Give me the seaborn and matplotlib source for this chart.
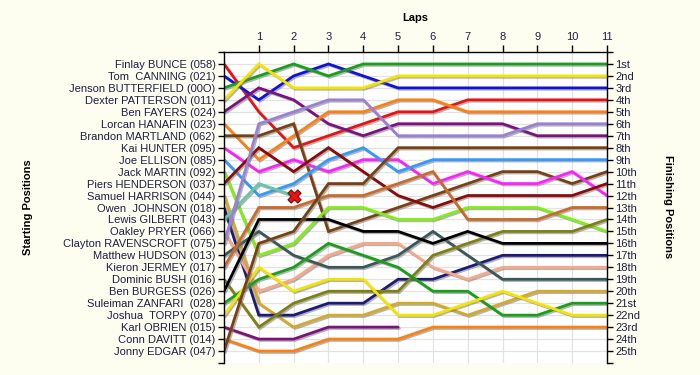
import matplotlib
matplotlib.use("Agg")
import matplotlib.pyplot as plt
import matplotlib.patheffects as pe
import numpy as np
import pandas as pd
import seaborn as sns

laps = list(range(12))

drivers = [
    "Finlay BUNCE (058)", "Tom  CANNING (021)", "Jenson BUTTERFIELD (00O)",
    "Dexter PATTERSON (011)", "Ben FAYERS (024)", "Lorcan HANAFIN (023)",
    "Brandon MARTLAND (062)", "Kai HUNTER (095)", "Joe ELLISON (085)",
    "Jack MARTIN (092)", "Piers HENDERSON (037)", "Samuel HARRISON (044)",
    "Owen  JOHNSON (018)", "Lewis GILBERT (043)", "Oakley PRYER (066)",
    "Clayton RAVENSCROFT (075)", "Matthew HUDSON (013)", "Kieron JERMEY (017)",
    "Dominic BUSH (016)", "Ben BURGESS (026)", "Suleiman ZANFARI  (028)",
    "Joshua  TORPY (070)", "Karl OBRIEN (015)", "Conn DAVITT (014)",
    "Jonny EDGAR (047)",
]

colors = [
    "#ee1111", "#1111dd", "#18a018", "#f5e400", "#7f107f", "#ff8010",
    "#7a4010", "#ff20ff", "#3399ff", "#80f010", "#8b0a0a", "#d8a828",
    "#1c1c78", "#66c8a8", "#f8a888", "#9a80d8", "#3a5858", "#cc6a28",
    "#808010", "#000000", "#18a018", "#f5e400", "#7f107f", "#ff8010",
    "#7a4010",
]

N = None
p_bunce = [1, 5, 8, 7, 6, 5, 5, 4, 4, 4, 4, 4]
p_canning = [2, 4, 2, 1, 2, 3, 3, 3, 3, 3, 3, 3]
p_butterfield = [3, 2, 1, 2, 1, 1, 1, 1, 1, 1, 1, 1]
p_patterson = [4, 1, 3, 3, 3, 2, 2, 2, 2, 2, 2, 2]
p_fayers = [5, 3, 4, 6, 7, 6, 6, 6, 6, 7, 7, 7]
p_hanafin = [6, 9, 7, 5, 5, 4, 4, 5, 5, 5, 5, 5]
p_martland = [7, 7, 6, 15, 14, 13, 12, 11, 10, 10, 11, 10]
p_hunter = [8, 10, 9, 10, 9, 9, 11, 10, 11, 11, 10, 12]
p_ellison = [9, 12, 11, 9, 8, 10, 9, 9, 9, 9, 9, 9]
p_martin = [10, 17, 16, 13, 13, 14, 14, 13, 13, 13, 14, 15]
p_henderson = [11, 8, 10, 8, 10, 12, 13, 12, 12, 12, 12, 11]
p_harrison = [12, 21, 23, 22, 22, 21, 21, 22, 21, 20, 20, 20]
p_johnson = [13, 22, 22, 21, 21, 19, 19, 18, 17, 17, 17, 17]
p_gilbert = [14, 11, 12, N, N, N, N, N, N, N, N, N]
p_pryer = [15, 20, 19, 17, 16, 16, 18, 19, 18, 18, 18, 18]
p_ravenscroft = [16, 6, 5, 4, 4, 7, 7, 7, 7, 6, 6, 6]
p_hudson = [17, 15, 17, 18, 18, 17, 15, 17, 19, 19, 19, 19]
p_jermey = [18, 13, 13, 12, 12, 11, 10, 14, 14, 14, 13, 13]
p_bush = [19, 23, 21, 20, 20, 20, 17, 16, 15, 15, 15, 14]
p_burgess = [20, 14, 14, 14, 15, 15, 16, 15, 16, 16, 16, 16]
p_zanfari = [21, 19, 18, 16, 17, 18, 20, 20, 22, 22, 21, 21]
p_torpy = [22, 18, 20, 19, 19, 22, 22, 21, 20, 21, 22, 22]
p_obrien = [23, 24, 24, 23, 23, 23, N, N, N, N, N, N]
p_davitt = [24, 25, 25, 24, 24, 24, 23, 23, 23, 23, 23, 23]
p_edgar = [25, 16, 15, 11, 11, 8, 8, 8, 8, 8, 8, 8]

retired_marked = ["Lewis GILBERT (043)"]

finish_labels = ["1st", "2nd", "3rd", "4th", "5th", "6th", "7th", "8th", "9th",
                 "10th", "11th", "12th", "13th", "14th", "15th", "16th", "17th",
                 "18th", "19th", "20th", "21st", "22nd", "23rd", "24th", "25th"]

all_pos = [p_bunce, p_canning, p_butterfield, p_patterson, p_fayers, p_hanafin,
           p_martland, p_hunter, p_ellison, p_martin, p_henderson, p_harrison,
           p_johnson, p_gilbert, p_pryer, p_ravenscroft, p_hudson, p_jermey,
           p_bush, p_burgess, p_zanfari, p_torpy, p_obrien, p_davitt, p_edgar]

rows = []
for d, plist in zip(drivers, all_pos):
    for lap, p in zip(laps, plist):
        if p is not None:
            rows.append({"lap": lap, "pos": p, "driver": d})
df = pd.DataFrame(rows)

sns.set_style("white")
plt.rcParams["font.family"] = ["Liberation Sans", "DejaVu Sans"]

txt = "#1e1e46"
fig = plt.figure(figsize=(7, 3.75), dpi=100, facecolor="#fdfdf0")
ax = fig.add_axes([224 / 700, 1 - 363 / 375, (607 - 224) / 700, (363 - 52) / 375])
ax.set_facecolor("white")

sns.lineplot(data=df, x="lap", y="pos", hue="driver", hue_order=drivers,
             palette=dict(zip(drivers, colors)), legend=False, sort=False,
             estimator=None, linewidth=2.0, ax=ax)
for ln in ax.lines:
    ln.set_path_effects([pe.SimpleLineShadow(offset=(1.0, -1.0), shadow_color="#777777", alpha=0.55),
                         pe.Normal()])
    ln.set_solid_joinstyle("miter")

# retirement marker
ret = df[df["driver"].isin(retired_marked)].groupby("driver").tail(1)
sns.scatterplot(data=ret, x="lap", y="pos", marker="X", s=90, color="#ee1111",
                edgecolor="#6a1010", linewidth=0.8, ax=ax, zorder=5, legend=False)

ax.set_xlim(0, 11)
ax.set_ylim(26, 0)
ax.xaxis.tick_top()
ax.set_xticks(range(1, 12))
ax.set_xticklabels([str(i) for i in range(1, 12)], color=txt, fontsize=8)
ax.set_yticks(range(1, 26))
ax.set_yticklabels(drivers, color=txt, fontsize=8)
ax.set_yticks([0, 26], minor=True)
ax.tick_params(axis="y", which="both", direction="out", length=4, width=1, color="black", pad=2, left=True)
ax.tick_params(axis="x", which="both", direction="out", length=5, width=1, color="black", pad=2, top=True, bottom=False)
ax.grid(True, color="#e2e2e2", linewidth=0.9)
ax.set_axisbelow(True)
for s in ["left", "right", "top"]:
    ax.spines[s].set_visible(True)
    ax.spines[s].set_color("black")
    ax.spines[s].set_linewidth(1.0)
ax.spines["bottom"].set_visible(False)
ax.set_xlabel("")
ax.set_ylabel("")

ax2 = ax.twinx()
ax2.set_ylim(26, 0)
ax2.set_yticks(range(1, 26))
ax2.set_yticklabels(finish_labels, color=txt, fontsize=8)
ax2.set_yticks([0, 26], minor=True)
ax2.tick_params(axis="y", which="both", direction="out", length=4, width=1, color="black", pad=2, right=True)
for s in ["left", "right", "top", "bottom"]:
    ax2.spines[s].set_visible(False)
ax2.grid(False)

fig.text(415 / 700, 1 - 18 / 375, "Laps", ha="center", va="center", fontsize=8, fontweight="bold", color="black")
fig.text(28 / 700, 1 - 207 / 375, "Starting Positions", ha="center", va="center", rotation=90,
         fontsize=8, fontweight="bold", color="black")
fig.text(668 / 700, 1 - 207 / 375, "Finishing Positions", ha="center", va="center", rotation=270,
         fontsize=8, fontweight="bold", color="black")

fig.savefig("out.png", dpi=100, facecolor=fig.get_facecolor())
